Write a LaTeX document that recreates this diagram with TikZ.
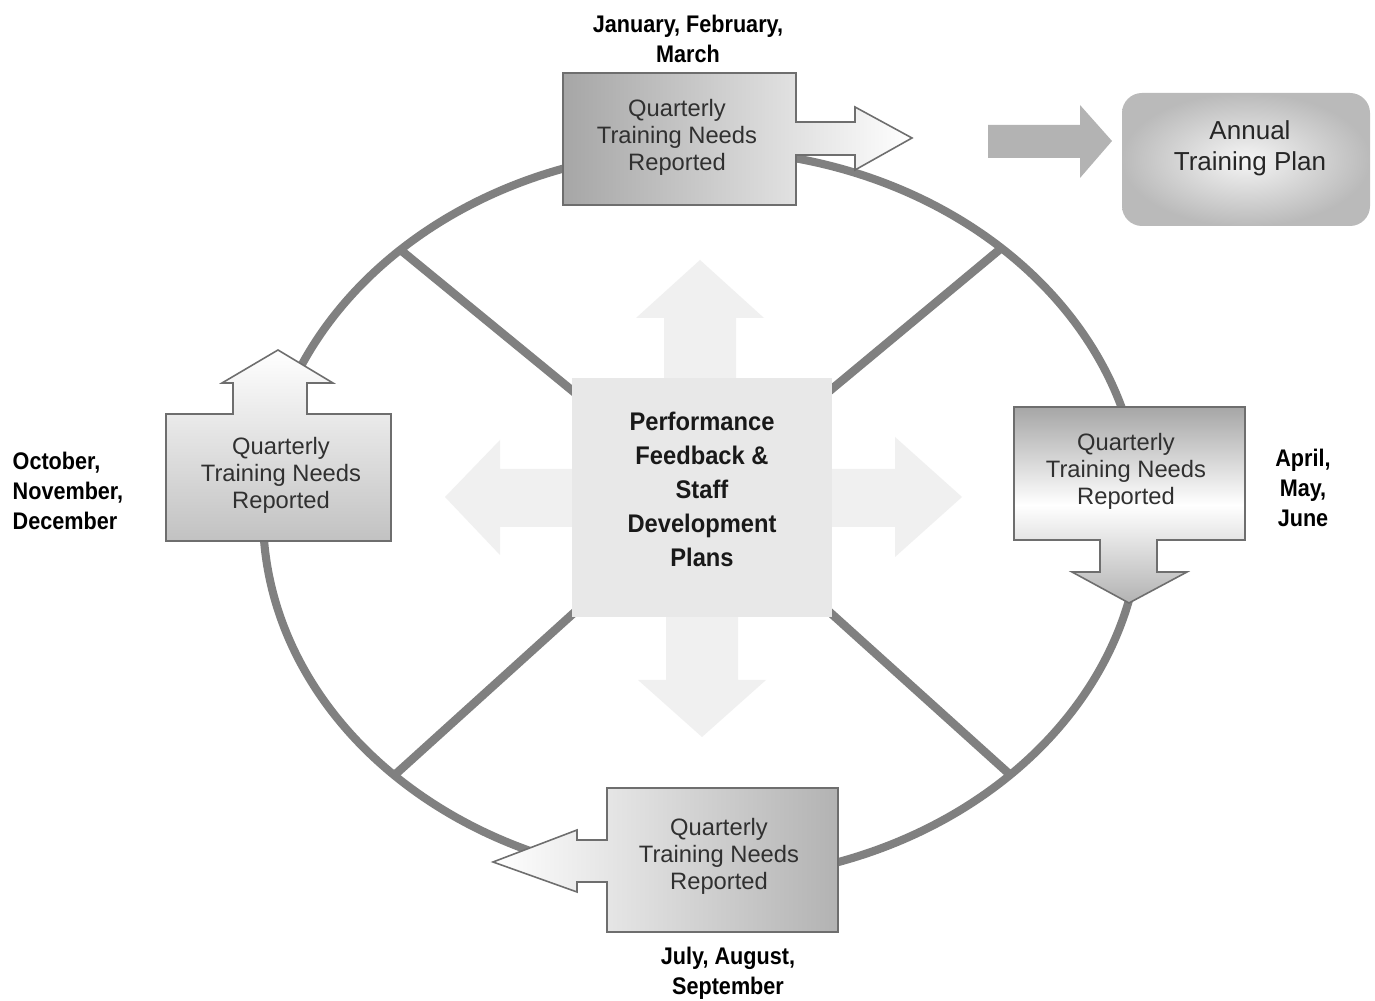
\documentclass[tikz,border=0pt]{standalone}
\usepackage{fontspec}
\setmainfont{Liberation Sans}
\newfontfamily\labelfont[FakeStretch=0.9]{Liberation Sans}
\newfontfamily\centerfont[FakeStretch=0.93]{Liberation Sans}
\usetikzlibrary{shapes.geometric}
\definecolor{ringgray}{HTML}{808080}
\definecolor{boxdark}{HTML}{A6A6A6}
\definecolor{boxline}{HTML}{6E6E6E}
\definecolor{txtgray}{HTML}{303030}
\definecolor{crossfill}{HTML}{F0F0F0}
\definecolor{squarefill}{HTML}{E8E8E8}
\definecolor{annarrow}{HTML}{B3B3B3}
\tikzset{
  ring/.style={draw=ringgray, line width=2.3pt},
  spoke/.style={draw=ringgray, line width=2.4pt},
  qbox/.style={draw=boxline, line width=0.45pt},
  qtext/.style={align=center, inner sep=0pt, text=txtgray, font=\fontsize{6.75}{7.7}\selectfont},
  lbl/.style={align=center, inner sep=0pt, text=black, font=\labelfont\bfseries\fontsize{6.83}{8.5}\selectfont},
  ctext/.style={align=center, inner sep=0pt, text=black!90, font=\centerfont\bfseries\fontsize{7.25}{9.67}\selectfont},
  crossarrow/.style={fill=crossfill, draw=none},
}
\begin{document}
\begin{tikzpicture}[x=0.01cm, y=-0.01cm]
\useasboundingbox (0,0) rectangle (1375,1001);
\fill[white] (0,0) rectangle (1375,1001);

% ring and spokes
\coordinate (C) at (702,515);
\coordinate (hub) at (702,497);
\coordinate (s1) at ([shift={(226.6:439 and 365)}]C);
\coordinate (s2) at ([shift={(313.0:439 and 365)}]C);
\coordinate (s3) at ([shift={(134.5:439 and 365)}]C);
\coordinate (s4) at ([shift={(45.4:439 and 365)}]C);
\draw[spoke] (s1) -- (hub);
\draw[spoke] (s2) -- (hub);
\draw[spoke] (s3) -- (hub);
\draw[spoke] (s4) -- (hub);
\draw[ring] (C) ellipse [x radius=439, y radius=365];

% central cross arrows
\path[crossarrow] (664,400) -- (664,318) -- (636,318) -- (700,260) -- (764,318) -- (736,318) -- (736,400) -- cycle;
\path[crossarrow] (666,600) -- (666,680) -- (638,680) -- (702,737) -- (766,680) -- (738,680) -- (738,600) -- cycle;
\path[crossarrow] (600,469) -- (500,469) -- (500,440) -- (445,497) -- (500,555) -- (500,527) -- (600,527) -- cycle;
\path[crossarrow] (800,469) -- (895,469) -- (895,437) -- (962,497) -- (895,557) -- (895,527) -- (800,527) -- cycle;
\fill[squarefill] (572,378) rectangle (832,617);
\node[ctext] (center) at (702,489) {Performance\\Feedback \&\\Staff\\Development\\Plans};

% top box (Jan-Mar)
\path[qbox, left color=boxdark, right color=white]
  (563,73) -- (796,73) -- (796,122) -- (855,122) -- (855,107) -- (912,138)
  -- (855,170) -- (855,155) -- (796,155) -- (796,205) -- (563,205) -- cycle;
\node[qtext] (q1) at (677,137) {Quarterly\\Training Needs\\Reported};
\node[lbl] (l1) at (688,39) {January, February,\\March};

% right box (Apr-Jun)
\path[qbox, top color=boxdark, bottom color=black!30, middle color=white]
  (1014,407) -- (1245,407) -- (1245,540) -- (1157,540) -- (1157,572) -- (1187,572)
  -- (1129,603) -- (1072,572) -- (1100,572) -- (1100,540) -- (1014,540) -- cycle;
\node[qtext] (q2) at (1126,471) {Quarterly\\Training Needs\\Reported};
\node[lbl] (l2) at (1303,488) {April,\\May,\\June};

% bottom box (Jul-Sep)
\path[qbox, left color=white, right color=black!30]
  (607,788) -- (838,788) -- (838,932) -- (607,932) -- (607,882) -- (577,882)
  -- (577,892) -- (493,862) -- (577,830) -- (577,840) -- (607,840) -- cycle;
\node[qtext] (q3) at (719,856) {Quarterly\\Training Needs\\Reported};
\node[lbl] (l3) at (728,973) {July, August,\\September};

% left box (Oct-Dec)
\path[qbox, top color=white, bottom color=black!24]
  (166,414) -- (233,414) -- (233,383) -- (222,383) -- (278,350) -- (333,383)
  -- (307,383) -- (307,414) -- (391,414) -- (391,541) -- (166,541) -- cycle;
\node[qtext] (q4) at (281,475) {Quarterly\\Training Needs\\Reported};
\node[lbl, anchor=west, align=left] (l4) at (12,491) {October,\\November,\\December};

% annual training plan
\path[fill=annarrow] (988,125) -- (1080,125) -- (1080,105) -- (1112,141) -- (1080,178) -- (1080,158) -- (988,158) -- cycle;
\path[rounded corners=0.2cm, inner color=black!4, outer color=black!27] (1122,93) rectangle (1370,226);
\node[qtext, text=black!85, font=\fontsize{7.4}{8.8}\selectfont] (atp) at (1250,148) {Annual\\Training Plan};
\end{tikzpicture}
\end{document}
